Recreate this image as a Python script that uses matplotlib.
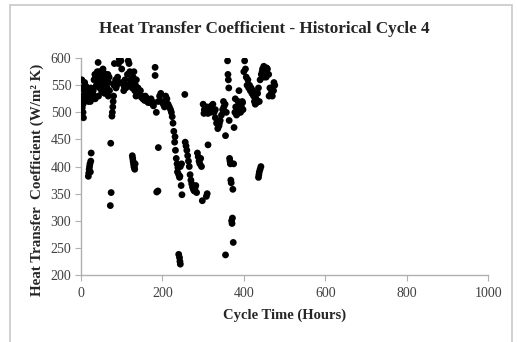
import numpy as np
import matplotlib.pyplot as plt
from matplotlib.patches import Rectangle

# cycle time (hours) and heat transfer coefficient in clusters
hours_a = [2, 3, 4, 5, 6, 8, 10, 12, 14, 16, 18, 20, 22, 24, 26, 28, 3, 7, 11, 15, 19, 23, 27, 5, 9, 13,
           18, 19, 20, 21, 22, 23, 24, 25]
htc_a = [560, 545, 530, 515, 490, 540, 550, 548, 535, 525, 520, 530, 540, 545, 535, 528, 508, 522, 538, 545, 530, 520, 525, 500, 555, 545,
         382, 388, 395, 400, 405, 390, 410, 425]

hours_b = [30, 32, 34, 36, 38, 40, 42, 44, 46, 48, 50, 52, 54, 56, 58, 60, 62, 64, 66, 68, 70,
           33, 37, 41, 45, 49, 53, 57, 61, 65, 69, 35, 43, 51, 59, 67, 73, 74, 72]
htc_b = [540, 560, 570, 565, 550, 575, 592, 560, 545, 570, 555, 540, 580, 565, 535, 550, 560, 545, 570, 555, 540,
         530, 548, 558, 575, 562, 548, 572, 540, 555, 565, 525, 530, 538, 545, 530, 443, 352, 328]

hours_c = [76, 77, 78, 79, 80, 81, 82, 84, 86, 88, 90, 92, 94, 96, 98, 100, 102, 104, 106, 108, 110, 112, 114, 116, 118,
           120, 122, 124, 126, 128, 130, 132, 134, 136, 138, 140, 85, 95, 105, 115, 125, 135,
           126, 127, 128, 129, 130, 131, 132, 133]
htc_c = [493, 500, 510, 520, 530, 550, 590, 555, 545, 550, 565, 590, 598, 600, 595, 580, 555, 552, 548, 560, 545, 550, 570, 595, 590,
         575, 560, 555, 545, 565, 575, 540, 550, 560, 535, 545, 560, 555, 540, 548, 550, 530,
         420, 415, 410, 405, 400, 398, 395, 405]

hours_d = [142, 145, 148, 150, 153, 156, 160, 163, 166, 170, 173, 176, 179, 146, 152, 158, 165, 172, 178,
           190, 193, 196, 199, 202, 205, 208, 211, 214, 217, 220, 182, 182, 185, 190, 186, 189]
htc_d = [535, 532, 528, 530, 525, 522, 527, 520, 523, 518, 520, 515, 518, 540, 525, 530, 518, 525, 512,
         520, 530, 535, 520, 515, 510, 530, 525, 515, 510, 505, 583, 568, 500, 435, 353, 355]

hours_e = [222, 224, 226, 228, 230, 232, 234, 236, 238, 240, 242, 244, 246, 248, 231, 237, 243, 247,
           240, 242, 243, 244, 255]
htc_e = [500, 492, 480, 465, 445, 430, 415, 405, 398, 385, 380, 400, 365, 348, 455, 390, 382, 405,
         238, 232, 225, 220, 533]

hours_f = [256, 258, 260, 262, 264, 266, 268, 270, 272, 274, 276, 278, 280, 282, 284,
           286, 288, 290, 292, 294, 296, 298, 308, 310, 312]
htc_f = [445, 438, 430, 420, 410, 400, 385, 375, 368, 362, 358, 355, 360, 365, 352,
         425, 418, 410, 405, 415, 400, 337, 345, 350, 440]

hours_g = [300, 303, 306, 309, 312, 315, 318, 321, 324, 327, 330, 333, 336, 339, 342, 345, 348, 351, 354, 357,
           302, 310, 320, 330, 340, 350, 355, 355]
htc_g = [515, 505, 500, 510, 498, 505, 500, 510, 515, 500, 490, 480, 470, 475, 485, 495, 505, 510, 515, 500,
         498, 502, 512, 505, 480, 520, 457, 237]

hours_h = [360, 361, 362, 363, 364, 365, 366, 367, 368, 369, 370, 371, 372, 373, 374, 375,
           376, 378, 380, 382, 384, 386, 388, 390, 392, 394, 396, 398, 379, 385, 391, 397]
htc_h = [595, 570, 560, 545, 485, 415, 410, 405, 375, 370, 300, 295, 305, 358, 260, 405,
         472, 500, 510, 495, 505, 520, 540, 515, 500, 510, 520, 505, 525, 498, 512, 518]

hours_i = [400, 402, 404, 406, 408, 410, 412, 414, 416, 418, 420, 422, 424, 426, 428, 430, 432, 434, 436, 438,
           436, 437, 438, 440, 442]
htc_i = [575, 595, 580, 565, 550, 560, 545, 550, 540, 545, 535, 540, 530, 520, 515, 525, 518, 535, 545, 520,
         380, 385, 390, 395, 400]

hours_j = [440, 443, 446, 449, 452, 455, 458, 461, 464, 467, 470, 473, 476, 445, 450, 456, 462, 468, 474]
htc_j = [560, 570, 580, 585, 575, 565, 580, 570, 545, 535, 530, 540, 550, 575, 565, 582, 530, 545, 555]

hours = np.concatenate([hours_a, hours_b, hours_c, hours_d, hours_e, hours_f, hours_g, hours_h, hours_i, hours_j])
htc = np.concatenate([htc_a, htc_b, htc_c, htc_d, htc_e, htc_f, htc_g, htc_h, htc_i, htc_j])

plt.rcParams['font.family'] = ['Liberation Serif', 'DejaVu Serif']

fig = plt.figure(figsize=(5.17, 3.42), dpi=100)
ax = fig.add_axes([0.1567, 0.196, 0.7873, 0.634])

# light frame around the chart area
fig.patches.append(Rectangle((10 / 517, -0.02), 502 / 517, 1 - 5 / 342 + 0.02,
                             transform=fig.transFigure, fill=False,
                             edgecolor='#c8c8c8', linewidth=1.2))

ax.scatter(hours, htc, s=24, color='black', edgecolors='none', zorder=3)

ax.set_xlim(0, 1000)
ax.set_ylim(200, 600)
ax.set_xticks([0, 200, 400, 600, 800, 1000])
ax.set_yticks(range(200, 601, 50))

for side in ['top', 'right']:
    ax.spines[side].set_visible(False)
for side in ['left', 'bottom']:
    ax.spines[side].set_color('#b0b0b0')
    ax.spines[side].set_linewidth(1.0)
ax.tick_params(axis='both', direction='out', length=4, color='#b0b0b0',
               labelsize=10, labelcolor='#404040', pad=3)
ax.tick_params(axis='x', pad=5)

fig.text(264 / 517, 1 - 29 / 342, 'Heat Transfer Coefficient - Historical Cycle 4',
         ha='center', va='center', fontsize=12.3, fontweight='bold', color='#262626')
ax.set_xlabel('Cycle Time (Hours)', fontsize=10.5, fontweight='bold', color='#262626')
ax.set_ylabel('Heat Transfer  Coefficient (W/m² K)', fontsize=10.8,
              fontweight='bold', color='#262626')
ax.xaxis.set_label_coords(0.5, -0.184)
ax.yaxis.set_label_coords(-0.108, 0.438)
ax.xaxis.label.set_va('center')
ax.yaxis.label.set_va('center')

plt.savefig('out.png', dpi=100)
